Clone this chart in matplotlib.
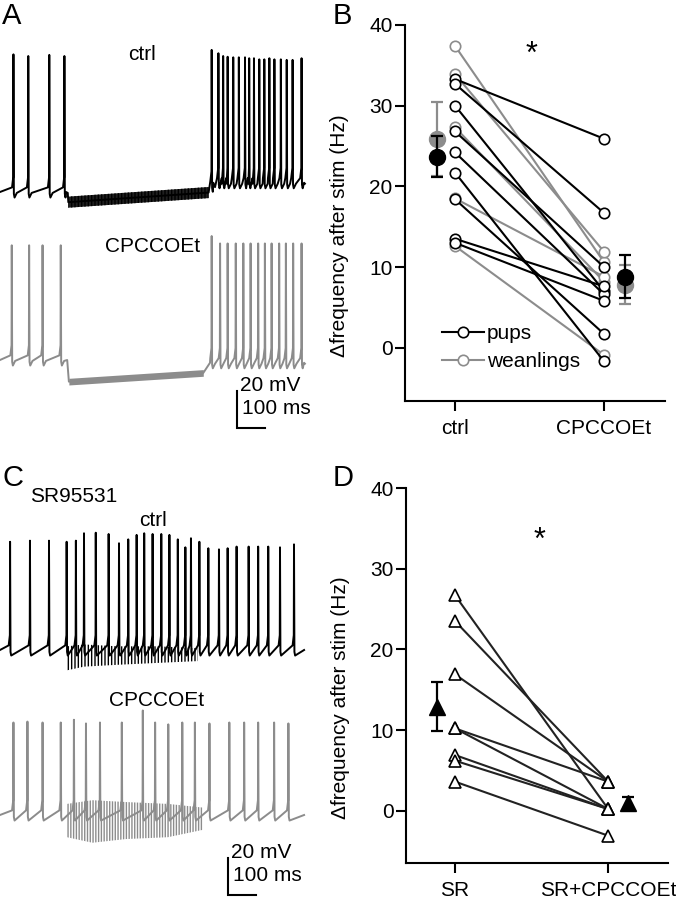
import numpy as np
import matplotlib.pyplot as plt
from matplotlib.lines import Line2D

plt.rcParams['font.family'] = ['Liberation Sans', 'DejaVu Sans']
plt.rcParams['font.size'] = 15
plt.rcParams['hatch.linewidth'] = 1.0

W, H = 676, 899
PX_MS = 0.28   # pixels per ms in the traces
PX_MV = 1.85   # pixels per mV in the traces
GRAY = '#8c8c8c'

# ---------------- panel A traces (ms, mV) ----------------
a_ctrl_spikes = [48, 101, 176, 230, 756, 780, 797, 813, 833, 853, 875, 890, 907,
                 926, 944, 962, 980, 1003, 1024, 1045, 1077]
a_ctrl_peaks = [14.4, 13.5, 14.1, 13.5, 16.8, 15.0, 13.5, 13.1, 12.8, 12.8, 12.8,
                12.3, 12.3, 11.7, 11.7, 12.3, 11.7, 11.7, 11.4, 11.4, 12.3]
a_ctrl_base_t = [0, 236, 244, 745, 762, 1086]
a_ctrl_base_v = [-60, -60, -65.5, -60.3, -55, -55]
a_ctrl_noise = 3.0

a_cp_spikes = [42, 104, 152, 217, 756, 786, 813, 842, 869, 895, 922, 946, 970,
               997, 1021, 1047, 1077]
a_cp_peaks = [2.0, 2.0, 2.0, 2.0, 7.0, 3.0, 3.0, 3.0, 3.0, 3.0, 3.0, 3.0, 3.0,
              3.0, 3.0, 3.0, 3.0]
a_cp_base_t = [0, 240, 246, 726, 750, 1086]
a_cp_base_v = [-60, -60, -71.7, -67, -61.5, -61.5]
a_cp_noise = 1.8

# ---------------- panel C traces (ms, mV) ----------------
c_ctrl_spikes = [36, 107, 175, 238, 271, 300, 342, 388, 425, 458, 488, 515, 545,
                 576, 605, 635, 662, 682, 712, 744, 782, 813, 845, 888, 922, 958,
                 1000, 1050]
c_ctrl_peaks = [-1.5, -0.9, -0.9, -1.5, -0.9, 3.1, 3.4, 2.7, -2.3, -0.2, 2.2, 3.1,
                2.7, 2.7, 2.2, -0.2, -4.5, 0.4, -1.5, -5.0, -5.6, -5.0, -4.1, -4.1,
                -4.1, -4.1, -4.5, -2.9]
c_ctrl_noise_t = [239, 300, 420, 560, 707]
c_ctrl_noise_hi = [-58, -57, -58, -58, -59]
c_ctrl_noise_lo = [-71, -69, -68, -67, -66]

c_cp_spikes = [48, 98, 152, 217, 264, 307, 357, 435, 510, 554, 601, 651, 696, 748,
               819, 872, 922, 979, 1030]
c_cp_peaks = [-10.0, -9.5, -10.0, -10.0, -8.5, -10.5, -10.0, -10.0, -3.5, -10.0,
              -11.0, -10.0, -10.0, -10.5, -10.0, -10.0, -10.0, -10.0, -10.5]
c_cp_noise_t = [239, 330, 450, 600, 725]
c_cp_noise_hi = [-54, -52, -53, -54, -56]
c_cp_noise_lo = [-72, -75, -73, -72, -68]

# ---------------- panel B data (Hz) ----------------
b_conditions = ['ctrl', 'CPCCOEt']
b_pups_ctrl = [33.3, 32.7, 30.0, 26.8, 24.2, 21.7, 18.4, 13.5, 13.0]
b_pups_cpcc = [25.9, 16.7, 7.0, 10.0, 6.6, -1.7, 1.7, 7.6, 5.8]
b_wean_ctrl = [37.4, 33.9, 27.3, 18.5, 12.6]
b_wean_cpcc = [10.6, 11.9, 8.2, 8.8, -0.9]
b_pups_mean = [23.7, 8.8]
b_pups_sem = [2.5, 2.65]
b_wean_mean = [25.9, 7.8]
b_wean_sem = [4.6, 2.4]

# ---------------- panel D data (Hz) ----------------
d_conditions = ['SR', 'SR+CPCCOEt']
d_sr = [26.7, 23.5, 16.9, 10.2, 10.2, 6.9, 6.2, 3.6]
d_sr_cpcc = [0.2, 3.6, 3.6, 3.6, 0.2, 0.2, 0.2, -3.1]
d_mean = [12.9, 1.0]
d_sem = [3.0, 0.7]


def trace(spikes, peaks, base_t, base_v, ramp=False):
    t = list(base_t)
    v = list(base_v)
    for s, p in zip(spikes, peaks):
        b = np.interp(s, base_t, base_v)
        t += [s - 5, s - 0.8, s, s + 1.5, s + 4]
        v += [b + 2.5, b + 8, p, b - 1, b - 3]
        if not ramp:
            t.append(s + 12)
            v.append(b - 0.5)
    order = np.argsort(t)
    return np.array(t)[order], np.array(v)[order]


fig = plt.figure(figsize=(W / 100, H / 100), dpi=100)


def trace_axes(px_top, px_bot, px_base):
    ax = fig.add_axes([0, 1 - px_bot / H, 340 / W, (px_bot - px_top) / H])
    ax.set_xlim(0, 340 / PX_MS)
    ax.set_ylim(-60 + (px_base - px_bot) / PX_MV, -60 + (px_base - px_top) / PX_MV)
    ax.axis('off')
    return ax


def scale_bar(ax, x_px, y_px, px_base):
    x0 = x_px / PX_MS
    y0 = -60 + (px_base - y_px) / PX_MV
    ax.plot([x0, x0, x0 + 100], [y0 + 20, y0, y0], color='k', lw=1.5,
            solid_joinstyle='miter')
    ax.text(x0 + 11, y0 + 23.2, '20 mV', ha='left', va='center')
    ax.text(x0 + 18, y0 + 10.8, '100 ms', ha='left', va='center')


# ---- A ----
axA = trace_axes(30, 440, 192)
cp_off = -(360 - 192) / PX_MV
t, v = trace(a_ctrl_spikes, a_ctrl_peaks, a_ctrl_base_t, a_ctrl_base_v)
axA.plot(t, v, color='k', lw=1.4)
nt = a_ctrl_base_t[2:4]
nv = np.array(a_ctrl_base_v[2:4])
axA.fill_between(nt, nv - a_ctrl_noise, nv + a_ctrl_noise, facecolor='#202020',
                 edgecolor='k', hatch='|||||', lw=0)
t, v = trace(a_cp_spikes, a_cp_peaks, a_cp_base_t, a_cp_base_v)
axA.plot(t, v + cp_off, color=GRAY, lw=1.4)
nt = a_cp_base_t[2:4]
nv = np.array(a_cp_base_v[2:4]) + cp_off
axA.fill_between(nt, nv - a_cp_noise, nv + a_cp_noise, color=GRAY, lw=0)
axA.text(142 / PX_MS, -60 + (192 - 55) / PX_MV, 'ctrl', ha='center', va='center')
axA.text(153 / PX_MS, -60 + (192 - 247) / PX_MV, 'CPCCOEt', ha='center', va='center')
scale_bar(axA, 237, 428, 192)

# ---- C ----
axC = trace_axes(469, 899, 650)
cp_off_c = -(815 - 650) / PX_MV
t, v = trace(c_ctrl_spikes, c_ctrl_peaks, [0, 1086], [-60, -60], ramp=True)
axC.plot(t, v, color='k', lw=1.4)
axC.fill_between(c_ctrl_noise_t, c_ctrl_noise_lo, c_ctrl_noise_hi,
                 facecolor='none', edgecolor='k', hatch='|||||', lw=0)
t, v = trace(c_cp_spikes, c_cp_peaks, [0, 1086], [-60, -60], ramp=True)
axC.plot(t, v + cp_off_c, color=GRAY, lw=1.4)
axC.fill_between(c_cp_noise_t, np.array(c_cp_noise_lo) + cp_off_c,
                 np.array(c_cp_noise_hi) + cp_off_c,
                 facecolor='none', edgecolor=GRAY, hatch='||||||', lw=0)
axC.text(30 / PX_MS, -60 + (650 - 497) / PX_MV, 'SR95531', ha='left', va='center')
axC.text(153 / PX_MS, -60 + (650 - 520) / PX_MV, 'ctrl', ha='center', va='center')
axC.text(157 / PX_MS, -60 + (650 - 701) / PX_MV, 'CPCCOEt', ha='center', va='center')
scale_bar(axC, 228, 895, 650)


# ---- summary axes ----
def summary_axes(left, right, top, bottom, y_zero_px):
    ax = fig.add_axes([left / W, 1 - bottom / H, (right - left) / W, (bottom - top) / H])
    per = (y_zero_px - top) / 40
    ax.set_ylim((y_zero_px - bottom) / per, 40)
    ax.spines['top'].set_visible(False)
    ax.spines['right'].set_visible(False)
    for s in ['left', 'bottom']:
        ax.spines[s].set_linewidth(1.5)
    ax.set_yticks([0, 10, 20, 30, 40])
    ax.tick_params(direction='out', length=7, width=1.5, labelsize=15)
    ax.tick_params(axis='y', pad=2)
    ax.tick_params(axis='x', pad=6)
    ax.set_ylabel('Δfrequency after stim (Hz)', fontsize=15)
    ax.yaxis.set_label_coords(-0.215, 0.44)
    return ax


axB = summary_axes(405, 665, 25, 401, 347.7)
axB.set_xlim(-0.336, 1.409)
axB.set_xticks([0, 1])
axB.set_xticklabels(b_conditions)
for c0, c1 in zip(b_wean_ctrl, b_wean_cpcc):
    axB.plot([0, 1], [c0, c1], '-o', color=GRAY, lw=1.5, ms=7.5, mfc='white',
             mec=GRAY, mew=1.2, zorder=2)
for c0, c1 in zip(b_pups_ctrl, b_pups_cpcc):
    axB.plot([0, 1], [c0, c1], '-o', color='k', lw=1.5, ms=7.5, mfc='white',
             mec='k', mew=1.2, zorder=3)
axB.errorbar([-0.12, 1.14], b_wean_mean, yerr=b_wean_sem, fmt='o', color=GRAY,
             ms=11.5, capsize=4.5, elinewidth=1.6, capthick=1.6, zorder=4)
axB.errorbar([-0.12, 1.14], b_pups_mean, yerr=b_pups_sem, fmt='o', color='k',
             ms=11.5, capsize=4.5, elinewidth=1.6, capthick=1.6, zorder=5)
axB.text(0.51, 36.3, '*', ha='center', va='center', fontsize=22)
handles = [Line2D([], [], color='k', marker='o', mfc='white', mec='k', lw=1.5, ms=7.5, mew=1.2),
           Line2D([], [], color=GRAY, marker='o', mfc='white', mec=GRAY, lw=1.5, ms=7.5, mew=1.2)]
axB.legend(handles, ['pups', 'weanlings'], loc='lower left', bbox_to_anchor=(0.142, 0.08),
           frameon=False, borderpad=0, borderaxespad=0, handlelength=2.0,
           handletextpad=0.15, labelspacing=0.42, fontsize=15)

axD = summary_axes(406, 668, 488, 863, 810.7)
axD.set_xlim(-0.32, 1.39)
axD.set_xticks([0, 1])
axD.set_xticklabels(d_conditions)
for c0, c1 in zip(d_sr, d_sr_cpcc):
    axD.plot([0, 1], [c0, c1], '-^', color='#222222', lw=1.5, ms=8, mfc='white',
             mec='k', mew=1.2, zorder=3)
axD.errorbar([-0.12, 1.13], d_mean, yerr=d_sem, fmt='^', color='k', ms=12,
             capsize=4.5, elinewidth=1.6, capthick=1.6, zorder=5)
axD.text(0.55, 33.5, '*', ha='center', va='center', fontsize=22)

# panel letters
for lab, x, y in [('A', 2, 16), ('B', 333, 16), ('C', 3, 478), ('D', 333, 478)]:
    fig.text(x / W, 1 - y / H, lab, fontsize=21, ha='left', va='center')

fig.savefig('out.png', dpi=100)
